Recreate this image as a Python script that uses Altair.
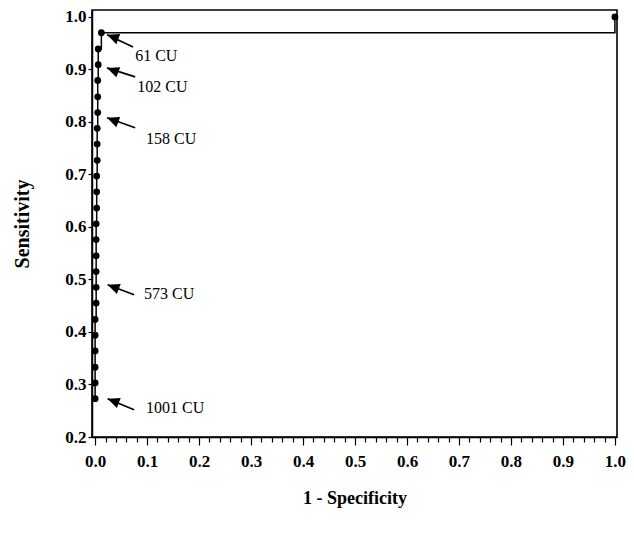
import altair as alt
import pandas as pd

# ROC curve points (1 - Specificity, Sensitivity)
fpr = [0.0, 0.0, 0.0, 0.0, 0.0, 0.0, 0.002, 0.002, 0.002, 0.002, 0.002, 0.002,
       0.003, 0.003, 0.003, 0.004, 0.004, 0.004, 0.005, 0.005, 0.005, 0.006,
       0.006, 0.012, 1.0]
sens = [0.273, 0.303, 0.333, 0.364, 0.394, 0.424, 0.455, 0.485, 0.515, 0.545,
        0.576, 0.606, 0.636, 0.667, 0.697, 0.727, 0.758, 0.788, 0.818, 0.848,
        0.879, 0.909, 0.939, 0.970, 1.0]

# Cut-off annotations
labels = ["61 CU", "102 CU", "158 CU", "573 CU", "1001 CU"]
tip_x = [0.023, 0.023, 0.023, 0.024, 0.024]
tip_y = [0.966, 0.903, 0.808, 0.490, 0.273]
tail_x = [0.073, 0.077, 0.077, 0.075, 0.075]
tail_y = [0.943, 0.886, 0.789, 0.471, 0.252]
label_x = [0.077, 0.081, 0.098, 0.094, 0.098]
label_y = [0.926, 0.867, 0.768, 0.472, 0.256]

x_ticks = [round(i * 0.02, 2) for i in range(51)]
y_ticks = [0.2, 0.3, 0.4, 0.5, 0.6, 0.7, 0.8, 0.9, 1.0]

roc = pd.DataFrame({"fpr": fpr, "sens": sens, "idx": list(range(len(fpr)))})
ann = pd.DataFrame({"label": labels, "tx": tip_x, "ty": tip_y, "sx": tail_x,
                    "sy": tail_y, "lx": label_x, "ly": label_y})

FONT = "Liberation Serif"
major = "abs(datum.value*10 - round(datum.value*10)) < 0.001"

xscale = alt.Scale(domain=[-0.006, 1.004], nice=False, zero=False)
yscale = alt.Scale(domain=[0.2, 1.0133], nice=False, zero=False)

xaxis = alt.Axis(
    title="1 - Specificity", values=x_ticks, tickCount=200, grid=False,
    labelExpr=f"{major} ? format(datum.value, '.1f') : ''",
    labelOverlap=False, labelFlush=False,
    tickSize={"condition": {"test": major, "value": 8}, "value": 5},
    labelPadding=8, titlePadding=20, titleFontSize=18,
)
yaxis = alt.Axis(
    title="Sensitivity", values=y_ticks, tickCount=50, format=".1f", grid=False,
    tickSize=4, labelPadding=2, titlePadding=32, titleFontSize=20,
)

base = alt.Chart(roc)
line = base.mark_line(color="black", strokeWidth=1.5, interpolate="step-after").encode(
    x=alt.X("fpr:Q", scale=xscale, axis=xaxis),
    y=alt.Y("sens:Q", scale=yscale, axis=yaxis),
    order="idx:Q",
)
pts = base.mark_point(filled=True, color="black", size=46, opacity=1, shape="circle").encode(
    x="fpr:Q", y="sens:Q"
)

a = alt.Chart(ann)
shafts = a.mark_rule(color="black", strokeWidth=1.7).encode(
    x="sx:Q", y="sy:Q", x2="tx:Q", y2="ty:Q"
)
heads = a.mark_point(
    shape="M0,0 L-0.45,1 L0.45,1 Z", filled=True, color="black", opacity=1,
    size=576, angle=291,
).encode(x="tx:Q", y="ty:Q")
texts = a.mark_text(
    align="left", baseline="middle", font=FONT, fontSize=16, color="black"
).encode(x="lx:Q", y="ly:Q", text="label:N")

chart = alt.layer(line, pts, shafts, heads, texts).properties(
    width=525, height=427,
    autosize=alt.AutoSizeParams(type="none"),
    padding={"left": 84, "top": 2, "right": 9, "bottom": 95},
).configure_view(
    stroke="black", strokeWidth=1.6
).configure_axis(
    domainColor="black", domainWidth=1.5, tickColor="black", tickWidth=1.2,
    labelFont=FONT, labelFontSize=17, labelFontWeight="bold", labelColor="black",
    titleFont=FONT, titleFontWeight="bold", titleColor="black",
)

chart.save("out.html", embed_options={"renderer": "svg", "actions": False})
